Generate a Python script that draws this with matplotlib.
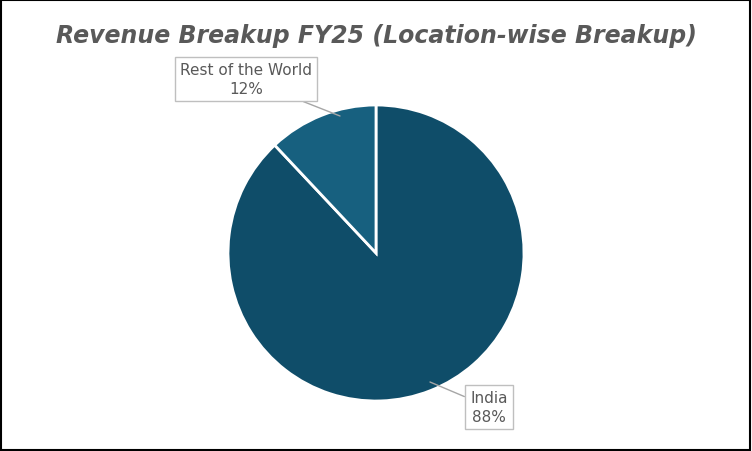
import matplotlib
matplotlib.use("Agg")
import matplotlib.pyplot as plt
from matplotlib.patches import Rectangle

labels = ["India", "Rest of the World"]
shares = [88, 12]
colors = ["#0f4d69", "#17607f"]

W, H = 752, 452
cx, cy, r = 376, 254, 148  # pie centre / radius in pixels (from top)

fig = plt.figure(figsize=(W / 100, H / 100), dpi=100)
fig.patch.set_facecolor("white")
fig.add_artist(Rectangle((0.001, 0.002), 0.997, 0.995, transform=fig.transFigure,
                         fill=False, edgecolor="black", linewidth=1.5))

half = 160
ax = fig.add_axes([(cx - half) / W, (H - cy - half) / H, 2 * half / W, 2 * half / H])
ax.pie(shares, colors=colors, startangle=90, counterclock=False,
       wedgeprops=dict(edgecolor="white", linewidth=2))
lim = half / r
ax.set_xlim(-lim, lim)
ax.set_ylim(-lim, lim)
ax.set_aspect("equal")
ax.axis("off")


def px(x, y):
    return (x - cx) / r, (cy - y) / r


box = dict(boxstyle="square,pad=0.35", fc="white", ec="#bfbfbf", lw=1)
lbl = dict(ha="center", va="center", fontsize=11, color="#595959",
           linespacing=1.3, bbox=box, annotation_clip=False)
line = dict(arrowstyle="-", color="#a6a6a6", lw=1, shrinkA=0, shrinkB=0)

ax.annotate(f"{labels[1]}\n{shares[1]}%", xy=px(340, 117), xytext=px(246, 80),
            arrowprops=line, **lbl)
ax.annotate(f"{labels[0]}\n{shares[0]}%", xy=px(430, 383), xytext=px(489, 408),
            arrowprops=line, **lbl)

fig.text(0.5, 1 - 36 / H, "Revenue Breakup FY25 (Location-wise Breakup)",
         ha="center", va="center", fontsize=17, fontweight="bold",
         fontstyle="italic", color="#595959")

fig.savefig("out.png", dpi=100, facecolor="white")
